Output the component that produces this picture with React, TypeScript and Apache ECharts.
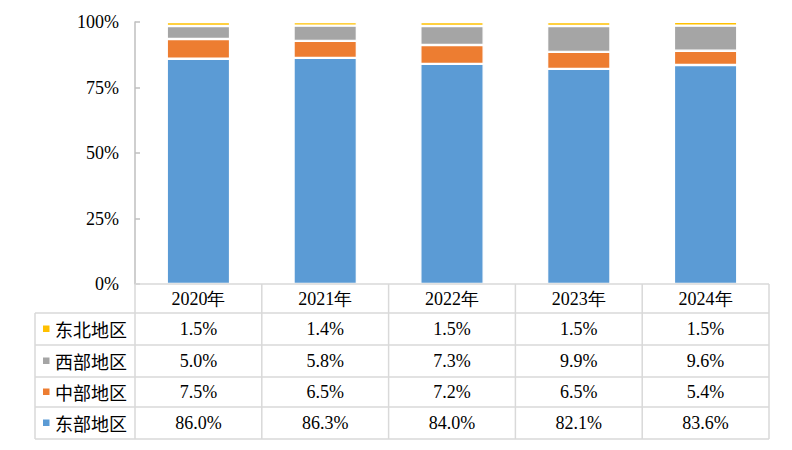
import React, { useEffect, useRef } from "react";
import * as echarts from "echarts";

const years = ["2020年", "2021年", "2022年", "2023年", "2024年"];
const east = [86.0, 86.3, 84.0, 82.1, 83.6];
const central = [7.5, 6.5, 7.2, 6.5, 5.4];
const west = [5.0, 5.8, 7.3, 9.9, 9.6];
const northeast = [1.5, 1.4, 1.5, 1.5, 1.5];
const yTicks = ["0%", "25%", "50%", "75%", "100%"];

const seriesDefs = [
  { name: "东部地区", data: east, color: "#5B9BD5" },
  { name: "中部地区", data: central, color: "#ED7D31" },
  { name: "西部地区", data: west, color: "#A5A5A5" },
  { name: "东北地区", data: northeast, color: "#FFC000" },
];

const FONT = "Liberation Serif, serif";
const CJK = "Noto Sans CJK SC, sans-serif";

export default function App() {
  const ref = useRef<HTMLDivElement>(null);
  useEffect(() => {
    if (!ref.current) return;
    const chart = echarts.init(ref.current, null, { renderer: "svg" });
    const gl = 135, gr = 769, gt = 22, gb = 284;
    const colW = (gr - gl) / years.length;
    const rowEdges = [284, 313, 345, 377, 407, 439];
    const tableLeft = 35;
    const lineColor = "#D9D9D9";
    const lineW = 1.5;
    const graphics: any[] = [];
    rowEdges.forEach((y, i) => {
      graphics.push({
        type: "line",
        shape: { x1: i === 0 ? gl : tableLeft, y1: y, x2: gr, y2: y },
        style: { stroke: lineColor, lineWidth: lineW },
        z: 10,
      });
    });
    for (let c = 0; c <= years.length; c++) {
      const x = gl + c * colW;
      graphics.push({
        type: "line",
        shape: { x1: x, y1: rowEdges[0], x2: x, y2: rowEdges[5] },
        style: { stroke: lineColor, lineWidth: lineW },
        z: 10,
      });
    }
    graphics.push({
      type: "line",
      shape: { x1: tableLeft, y1: rowEdges[1], x2: tableLeft, y2: rowEdges[5] },
      style: { stroke: lineColor, lineWidth: lineW },
      z: 10,
    });
    years.forEach((yr, c) => {
      graphics.push({
        type: "text",
        x: gl + (c + 0.5) * colW,
        y: (rowEdges[0] + rowEdges[1]) / 2,
        style: { text: yr, fontFamily: FONT, fontSize: 18, fill: "#000", align: "center", verticalAlign: "middle" },
        z: 11,
      });
    });
    const rows = [...seriesDefs].reverse();
    rows.forEach((s, r) => {
      const cy = (rowEdges[r + 1] + rowEdges[r + 2]) / 2;
      graphics.push({
        type: "rect",
        shape: { x: 43, y: cy - 3.5, width: 6.5, height: 6.5 },
        style: { fill: s.color },
        z: 11,
      });
      graphics.push({
        type: "text",
        x: 55,
        y: cy,
        style: { text: s.name, fontFamily: CJK, fontSize: 18, fill: "#000", align: "left", verticalAlign: "middle" },
        z: 11,
      });
      s.data.forEach((v, c) => {
        graphics.push({
          type: "text",
          x: gl + (c + 0.5) * colW,
          y: cy,
          style: { text: v.toFixed(1) + "%", fontFamily: FONT, fontSize: 18, fill: "#000", align: "center", verticalAlign: "middle" },
          z: 11,
        });
      });
    });

    chart.setOption({
      animation: false,
      backgroundColor: "#fff",
      grid: { left: gl, right: 792 - gr, top: gt, bottom: 450 - gb, containLabel: false },
      xAxis: {
        type: "category",
        data: years,
        axisLine: { show: false },
        axisTick: { show: false },
        axisLabel: { show: false },
      },
      yAxis: {
        type: "value",
        min: 0,
        max: 100,
        interval: 25,
        axisLine: { show: true, lineStyle: { color: "#BFBFBF", width: 1.5 } },
        axisTick: { show: true, inside: true, length: 5, lineStyle: { color: "#BFBFBF", width: 1.5 } },
        splitLine: { show: false },
        axisLabel: {
          margin: 16,
          fontFamily: FONT,
          fontSize: 18,
          color: "#000",
          formatter: (v: number) => yTicks[Math.round(v / 25)],
        },
      },
      series: seriesDefs.map((s) => ({
        name: s.name,
        type: "bar",
        stack: "total",
        barWidth: "50%",
        data: s.data,
        itemStyle: { color: s.color, borderColor: "#fff", borderWidth: 1.2 },
      })),
      graphic: graphics,
    });
    return () => chart.dispose();
  }, []);
  return <div ref={ref} style={{ position: "absolute", left: 0, top: 0, width: 792, height: 450 }} />;
}
